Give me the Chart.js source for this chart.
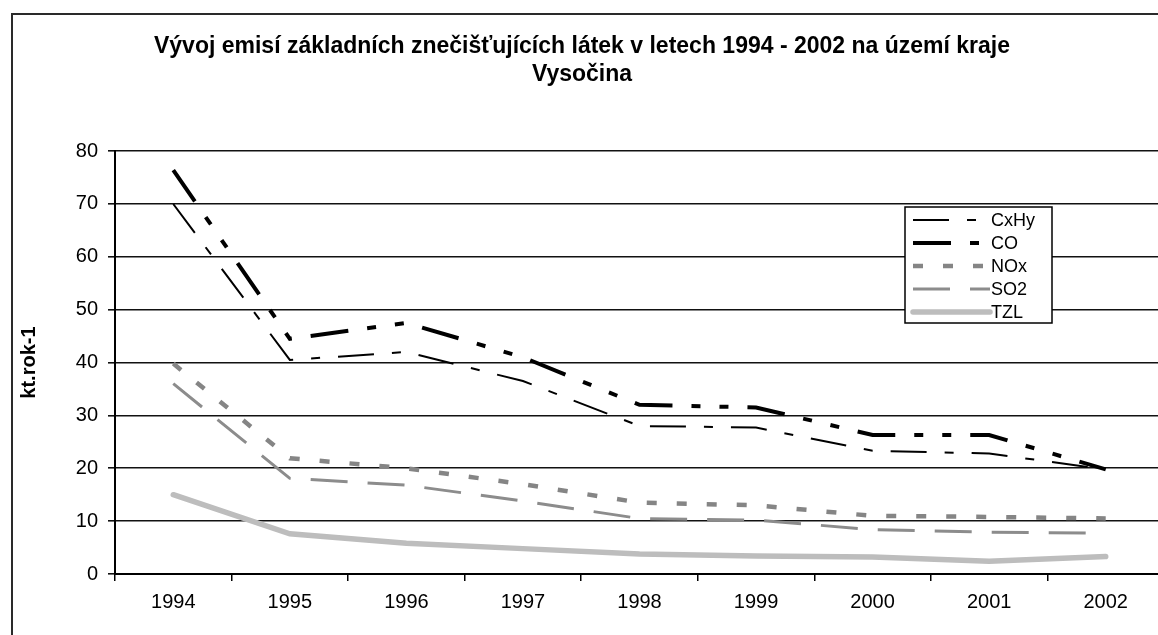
<!DOCTYPE html>
<html>
<head>
<meta charset="utf-8">
<script src="https://cdn.jsdelivr.net/npm/chart.js@4.4.1/dist/chart.umd.min.js"></script>
<style>
  html, body { margin: 0; padding: 0; background: #fff; overflow: hidden; }
  #wrap { position: absolute; left: 0; top: 0; width: 1180px; height: 660px; }
</style>
</head>
<body>
<div id="wrap"><canvas id="emiseChart"></canvas></div>
<script>
// Data (kt/rok)
const years = ['1994', '1995', '1996', '1997', '1998', '1999', '2000', '2001', '2002'];
const cxhy = [70, 40.5, 42, 36.5, 28, 27.7, 23.3, 22.8, 19.8];
const co   = [76.4, 44.5, 47.5, 41, 32, 31.5, 26.3, 26.3, 19.8];
const nox  = [39.8, 21.9, 20, 17, 13.5, 13, 11, 10.8, 10.5];
const so2  = [36, 18.1, 16.8, 13.8, 10.5, 10.2, 8.4, 7.9, 7.7];
const tzl  = [15, 7.6, 5.8, 4.8, 3.8, 3.4, 3.2, 2.4, 3.3];

const yTicks = { min: 0, max: 80, step: 10 };
const titleLines = ['Vývoj emisí základních znečišťujících látek v letech 1994 - 2002 na území kraje', 'Vysočina'];
const yTitle = 'kt.rok-1';

const FONT = 'Arial, "Liberation Sans", sans-serif';

// white background + outer frame like the Excel chart object
const framePlugin = {
    id: 'frame',
    beforeDraw(chart) {
        const ctx = chart.ctx;
        ctx.save();
        ctx.fillStyle = '#fff';
        ctx.fillRect(0, 0, chart.width, chart.height);
        ctx.strokeStyle = '#2a2a2a';
        ctx.lineWidth = 2;
        ctx.strokeRect(12, 14, chart.width + 20, chart.height + 20);
        ctx.restore();
    }
};

// boxed legend inside the plot area
const boxLegend = {
    id: 'boxLegend',
    afterDatasetsDraw(chart) {
        const ctx = chart.ctx;
        const x = 905, y = 207, w = 147, h = 116;
        ctx.save();
        ctx.fillStyle = '#fff';
        ctx.fillRect(x, y, w, h);
        ctx.strokeStyle = '#000';
        ctx.lineWidth = 1.5;
        ctx.strokeRect(x, y, w, h);
        ctx.font = '18px ' + FONT;
        ctx.textBaseline = 'middle';
        ctx.fillStyle = '#000';
        chart.data.datasets.forEach((ds, i) => {
            const ry = y + 13 + i * 23;
            ctx.beginPath();
            ctx.strokeStyle = ds.borderColor;
            ctx.lineWidth = ds.borderWidth;
            ctx.lineCap = ds.borderCapStyle || 'butt';
            ctx.setLineDash(ds.borderDash || []);
            ctx.moveTo(913, ry);
            ctx.lineTo(990, ry);
            ctx.stroke();
            ctx.setLineDash([]);
            ctx.fillText(ds.label, 991, ry + 1);
        });
        ctx.restore();
    }
};

new Chart(document.getElementById('emiseChart'), {
    type: 'line',
    data: {
        labels: years,
        datasets: [
            { label: 'CxHy', data: cxhy, borderColor: '#000', borderWidth: 2, borderDash: [36, 18, 9, 18] },
            { label: 'CO', data: co, borderColor: '#000', borderWidth: 4, borderDash: [38, 19, 9, 19, 9, 19] },
            { label: 'NOx', data: nox, borderColor: '#858585', borderWidth: 4.5, borderDash: [10, 20] },
            { label: 'SO2', data: so2, borderColor: '#8c8c8c', borderWidth: 3, borderDash: [37, 20] },
            { label: 'TZL', data: tzl, borderColor: '#bdbdbd', borderWidth: 5.5, borderCapStyle: 'round' }
        ]
    },
    options: {
        responsive: true,
        maintainAspectRatio: false,
        animation: false,
        elements: {
            point: { radius: 0, hoverRadius: 0 },
            line: { tension: 0, fill: false }
        },
        layout: {
            padding: { left: 0, right: 16, top: 0, bottom: 37 }
        },
        plugins: {
            legend: { display: false },
            tooltip: { enabled: false },
            title: {
                display: true,
                text: titleLines,
                color: '#000',
                font: { family: FONT, size: 23, weight: 'bold', lineHeight: 1.22 },
                padding: { top: 33, bottom: 62 }
            }
        },
        scales: {
            x: {
                offset: true,
                grid: { offset: true, drawOnChartArea: false, drawTicks: true, tickLength: 7, color: '#000', lineWidth: 1.5 },
                border: { color: '#000', width: 2 },
                ticks: { color: '#000', padding: 9, font: { family: FONT, size: 20 }, maxRotation: 0 }
            },
            y: {
                min: yTicks.min,
                max: yTicks.max,
                afterFit(scale) { scale.width = 115; },
                grid: { color: '#111', lineWidth: 1.6, tickLength: 7 },
                border: { color: '#000', width: 2 },
                ticks: { stepSize: yTicks.step, color: '#000', padding: 10, font: { family: FONT, size: 20 } },
                title: {
                    display: true,
                    text: yTitle,
                    color: '#000',
                    font: { family: FONT, size: 20, weight: 'bold' },
                    padding: { top: 17, bottom: 0 }
                }
            }
        }
    },
    plugins: [framePlugin, boxLegend]
});
</script>
</body>
</html>
